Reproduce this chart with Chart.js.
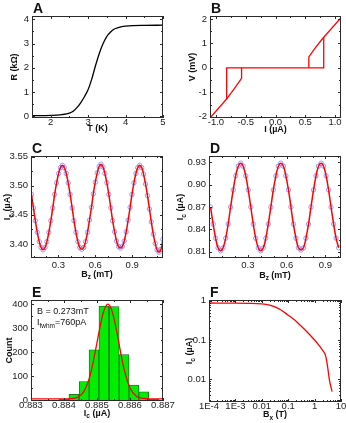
<!DOCTYPE html>
<html>
<head>
<meta charset="utf-8">
<script src="https://cdn.jsdelivr.net/npm/chart.js@4.4.0/dist/chart.umd.min.js"></script>
<style>
  html, body { margin: 0; padding: 0; background: #fff; overflow: hidden; }
  body { width: 346px; height: 423px; position: relative; }
  canvas { position: absolute; }
</style>
</head>
<body>
<canvas id="pA"></canvas>
<canvas id="pB"></canvas>
<canvas id="pC"></canvas>
<canvas id="pD"></canvas>
<canvas id="pE"></canvas>
<canvas id="pF"></canvas>
<script>
// ---- A: R(T)
const aTemp = [1.5, 2.0, 2.3, 2.5, 2.6, 2.7, 2.8, 2.9, 3.0, 3.1, 3.2, 3.3, 3.4, 3.5, 3.6, 3.7, 3.8, 3.9, 4.0, 4.2, 4.5, 5.0];
const aRes  = [0.02, 0.03, 0.06, 0.12, 0.2, 0.35, 0.55, 0.8, 1.1, 1.55, 2.1, 2.6, 3.0, 3.3, 3.48, 3.6, 3.66, 3.7, 3.72, 3.74, 3.75, 3.76];
const aXTicks = [2, 3, 4, 5];
const aYTicks = [0, 1, 2, 3, 4];

// ---- B: V(I) hysteresis
const bMainI = [-1.1, -0.82, -0.82, 0.81, 0.81, 1.1];
const bMainV = [-2.05, -1.27, 0, 0, 1.25, 2.05];
const bRetLI = [-0.82, -0.7, -0.57, -0.57];
const bRetLV = [-1.27, -0.88, -0.43, 0];
const bRetRI = [0.56, 0.56, 0.68, 0.81];
const bRetRV = [0, 0.45, 0.86, 1.25];
const bXTicks = [-1, -0.5, 0, 0.5, 1];
const bXLabels = ['-1.0', '-0.5', '0.0', '0.5', '1.0'];
const bYTicks = [-2, -1, 0, 1, 2];

// ---- C: Ic(Bz), first device
const cField = [0.082, 0.098, 0.113, 0.129, 0.145, 0.160, 0.176, 0.192, 0.207, 0.223, 0.239, 0.255, 0.270, 0.286, 0.302, 0.317,
  0.333, 0.349, 0.364, 0.380, 0.396, 0.412, 0.427, 0.443, 0.459, 0.474, 0.490, 0.506, 0.521, 0.537, 0.553, 0.569, 0.584, 0.600,
  0.616, 0.631, 0.647, 0.663, 0.678, 0.694, 0.710, 0.726, 0.741, 0.757, 0.773, 0.788, 0.804, 0.820, 0.835, 0.851, 0.867, 0.883,
  0.898, 0.914, 0.930, 0.945, 0.961, 0.977, 0.992, 1.008, 1.024, 1.040, 1.055, 1.071, 1.087, 1.102, 1.118, 1.134, 1.149];
const cCurrent = [3.485, 3.462, 3.440, 3.420, 3.404, 3.394, 3.390, 3.394, 3.404, 3.420, 3.440, 3.462, 3.485, 3.505, 3.521, 3.531,
  3.535, 3.531, 3.521, 3.505, 3.485, 3.462, 3.440, 3.420, 3.404, 3.394, 3.391, 3.394, 3.404, 3.420, 3.441, 3.463, 3.486, 3.506,
  3.522, 3.533, 3.537, 3.532, 3.521, 3.505, 3.485, 3.462, 3.440, 3.421, 3.405, 3.396, 3.393, 3.396, 3.405, 3.421, 3.441, 3.463,
  3.485, 3.505, 3.521, 3.531, 3.535, 3.531, 3.520, 3.503, 3.483, 3.460, 3.438, 3.417, 3.401, 3.390, 3.386, 3.391, 3.408];
const cXTicks = [0.3, 0.6, 0.9];
const cXLabels = ['0.3', '0.6', '0.9'];
const cYTicks = [3.40, 3.45, 3.50, 3.55];
const cYLabels = ['3.40', '3.45', '3.50', '3.55'];

// ---- D: Ic(Bz), second device
const dField = [0.012, 0.032, 0.051, 0.070, 0.090, 0.109, 0.129, 0.148, 0.167, 0.187, 0.206, 0.226, 0.245, 0.264, 0.284, 0.303,
  0.323, 0.342, 0.361, 0.381, 0.400, 0.420, 0.439, 0.458, 0.478, 0.497, 0.517, 0.536, 0.555, 0.575, 0.594, 0.614, 0.633, 0.652,
  0.672, 0.691, 0.711, 0.730, 0.749, 0.769, 0.788, 0.808, 0.827, 0.846, 0.866, 0.885, 0.905, 0.924, 0.943, 0.963, 0.982, 1.002];
const dCurrent = [0.870, 0.847, 0.828, 0.815, 0.811, 0.815, 0.828, 0.847, 0.870, 0.893, 0.912, 0.925, 0.929, 0.925, 0.912, 0.893,
  0.870, 0.847, 0.828, 0.815, 0.811, 0.815, 0.828, 0.847, 0.870, 0.893, 0.912, 0.925, 0.929, 0.925, 0.912, 0.893, 0.870, 0.847,
  0.828, 0.815, 0.812, 0.815, 0.828, 0.847, 0.870, 0.893, 0.912, 0.925, 0.929, 0.925, 0.912, 0.893, 0.870, 0.847, 0.828, 0.815];
const dXTicks = [0.3, 0.6, 0.9];
const dXLabels = ['0.3', '0.6', '0.9'];
const dYTicks = [0.81, 0.84, 0.87, 0.90, 0.93];
const dYLabels = ['0.81', '0.84', '0.87', '0.90', '0.93'];

// ---- E: histogram of Ic
const eBin   = [0.88400, 0.88430, 0.88461, 0.88491, 0.88521, 0.88552, 0.88582, 0.88612, 0.88642, 0.88673];
const eCount = [4, 25, 78, 210, 392, 390, 190, 63, 35, 4];
const eFitI  = [0.8830, 0.8835, 0.8840, 0.8842, 0.8844, 0.8846, 0.8848, 0.8850, 0.8851, 0.8852, 0.8853, 0.88533,
  0.8854, 0.8855, 0.8856, 0.8858, 0.8860, 0.8862, 0.8864, 0.8866, 0.8870];
const eFitN  = [6, 6, 6, 7, 12, 36, 108, 240, 311, 369, 398, 400, 391, 349, 284, 142, 51, 16, 8, 6, 6];
const eXTicks = [0.883, 0.884, 0.885, 0.886, 0.887];
const eXLabels = ['0.883', '0.884', '0.885', '0.886', '0.887'];
const eYTicks = [0, 100, 200, 300, 400];

// ---- F: Ic(Bx), log-log
const fField   = [1e-4, 1e-3, 3e-3, 0.01, 0.02, 0.03, 0.05, 0.1, 0.2, 0.3, 0.5, 1, 1.5, 2.0, 2.5, 2.8, 3.2, 3.6, 4.1, 4.6];
const fCurrent = [0.88, 0.87, 0.86, 0.84, 0.78, 0.71, 0.6, 0.43, 0.3, 0.23, 0.165, 0.1, 0.072, 0.055, 0.043, 0.032, 0.018, 0.01, 0.0065, 0.0048];
const fXTicks = [1e-4, 1e-3, 0.01, 0.1, 1, 10];
const fXLabels = ['1E-4', '1E-3', '0.01', '0.1', '1', '10'];
const fYTicks = [0.01, 0.1, 1];
const fYLabels = ['0.01', '0.1', '1'];

const FONT = '"Liberation Sans", Arial, sans-serif';
const zip = (xs, ys) => xs.map((x, i) => ({ x, y: ys[i] }));

// text with subscripts: parts = [[text, isSub], ...]
function richText(ctx, parts, x, y, size, bold, center) {
  const f = s => (bold ? 'bold ' : '') + s + 'px ' + FONT;
  let w = 0;
  parts.forEach(([t, sub]) => { ctx.font = f(sub ? size * 0.72 : size); w += ctx.measureText(t).width; });
  let cx = center ? x - w / 2 : x;
  parts.forEach(([t, sub]) => {
    ctx.font = f(sub ? size * 0.72 : size);
    ctx.fillText(t, cx, sub ? y + size * 0.28 : y);
    cx += ctx.measureText(t).width;
  });
}

function minorValues(s, step) {
  const out = [];
  if (!step) return out;
  if (step === 'log') {
    for (let d = Math.floor(Math.log10(s.min)); d <= Math.ceil(Math.log10(s.max)); d++)
      for (let k = 2; k <= 9; k++) {
        const v = k * Math.pow(10, d);
        if (v >= s.min && v <= s.max) out.push(v);
      }
    return out;
  }
  for (let n = Math.ceil(s.min / step - 1e-9); n * step <= s.max + 1e-12; n++) out.push(n * step);
  return out;
}

// box, inward ticks, axis titles, panel letter, notes
const framePlugin = {
  id: 'frame',
  afterDraw(chart, args, o) {
    const ctx = chart.ctx, a = chart.chartArea;
    const xs = chart.scales.x, ys = chart.scales.y;
    ctx.save();
    ctx.strokeStyle = '#2a2a2a';
    ctx.lineWidth = 1;
    const tick = (s, v, len) => {
      const p = Math.round(s.getPixelForValue(v)) + 0.5;
      ctx.beginPath();
      if (s.isHorizontal()) {
        ctx.moveTo(p, a.bottom); ctx.lineTo(p, a.bottom - len);
        ctx.moveTo(p, a.top); ctx.lineTo(p, a.top + len);
      } else {
        ctx.moveTo(a.left, p); ctx.lineTo(a.left + len, p);
        ctx.moveTo(a.right, p); ctx.lineTo(a.right - len, p);
      }
      ctx.stroke();
    };
    [[xs, o.xMinor], [ys, o.yMinor]].forEach(([s, m]) => {
      minorValues(s, m).forEach(v => tick(s, v, 2));
      s.ticks.forEach(t => tick(s, t.value, 3));
    });
    ctx.strokeRect(Math.round(a.left) + 0.5, Math.round(a.top) + 0.5,
      Math.round(a.right - a.left) - 1, Math.round(a.bottom - a.top) - 1);

    ctx.fillStyle = '#111';
    ctx.textBaseline = 'alphabetic';
    ctx.textAlign = 'left';
    // panel letter
    ctx.font = 'bold 14px ' + FONT;
    ctx.fillText(o.letter, a.left + 1, a.top - 3);
    // x title
    richText(ctx, o.xTitle, (a.left + a.right) / 2, a.bottom + o.xTitleY + 3.2, 9, true, true);
    // y title
    ctx.save();
    ctx.translate(a.left - o.yTitleX, (a.top + a.bottom) / 2);
    ctx.rotate(-Math.PI / 2);
    richText(ctx, o.yTitle, 0, 3.2, 9, true, true);
    ctx.restore();
    (o.notes || []).forEach(n => richText(ctx, n.parts, a.left + n.x, a.top + n.y, 9, false, false));
    ctx.restore();
  }
};

function axis(s, dir, size, pad) {
  return {
    type: s.type || 'linear',
    min: s.min, max: s.max, offset: false,
    grid: { display: false, drawTicks: false, offset: false },
    border: { display: false },
    ticks: {
      autoSkip: false, maxRotation: 0, minRotation: 0,
      padding: pad,
      color: '#222', font: { family: FONT, size: 9.5, lineHeight: 1 },
      callback: (v, i) => s.labels[i]
    },
    afterBuildTicks: sc => { sc.ticks = s.ticks.map(v => ({ value: v })); },
    afterFit: sc => { if (dir === 'x') sc.height = size; else sc.width = size; }
  };
}

function panel(id, rect, m, type, datasets, xs, ys, frame) {
  const [l, t, r, b] = rect;
  const cv = document.getElementById(id);
  cv.width = m.yW + (r - l) + m.padR;
  cv.height = m.padTop + (b - t) + m.xH;
  cv.style.left = (l - m.yW) + 'px';
  cv.style.top = (t - m.padTop) + 'px';
  new Chart(cv, {
    type,
    data: { datasets },
    options: {
      responsive: false, animation: false, devicePixelRatio: 1,
      layout: { padding: { left: 0, top: m.padTop, right: m.padR, bottom: 0 } },
      plugins: { legend: { display: false }, tooltip: { enabled: false }, frame },
      scales: { x: axis(xs, 'x', m.xH, m.xPad), y: axis(ys, 'y', m.yW, 3) }
    },
    plugins: [framePlugin]
  });
}

const redLine = (data, w, extra) => Object.assign({
  type: 'line', data, borderColor: '#ff0000', borderWidth: w, pointRadius: 0, fill: false
}, extra || {});
const blueDots = data => ({
  type: 'line', data, showLine: false, pointRadius: 2.2, pointBorderWidth: 0.8,
  pointBorderColor: '#8282ff', pointBackgroundColor: 'rgba(0,0,0,0)'
});

const IC = [['I', 0], ['c', 1], [' (\u00b5A)', 0]];

// A
panel('pA', [32, 16, 163, 118], { yW: 32, padTop: 16, padR: 12, xH: 20, xPad: -0.5 }, 'line',
  [redLine(zip(aTemp, aRes), 1.3, { borderColor: '#000', cubicInterpolationMode: 'monotone' })],
  { min: 1.5, max: 5, ticks: aXTicks, labels: aXTicks.map(String) },
  { min: -0.08, max: 4.14, ticks: aYTicks, labels: aYTicks.map(String) },
  { letter: 'A', xMinor: 0.5, yMinor: 0.5, xTitle: [['T (K)', 0]], xTitleY: 10,
    yTitle: [['R (k\u03a9)', 0]], yTitleX: 18 });

// B
panel('pB', [210, 16, 341, 118], { yW: 38, padTop: 16, padR: 8, xH: 20, xPad: -0.5 }, 'line',
  [redLine(zip(bMainI, bMainV), 1.3), redLine(zip(bRetLI, bRetLV), 1.3), redLine(zip(bRetRI, bRetRV), 1.3)],
  { min: -1.1, max: 1.1, ticks: bXTicks, labels: bXLabels },
  { min: -2.05, max: 2.12, ticks: bYTicks, labels: bYTicks.map(String) },
  { letter: 'B', xMinor: 0.25, yMinor: 0.5, xTitle: [['I (\u00b5A)', 0]], xTitleY: 11,
    yTitle: [['V (mV)', 0]], yTitleX: 18 });

// C
panel('pC', [31, 156, 163, 258], { yW: 31, padTop: 16, padR: 12, xH: 22, xPad: 2.5 }, 'line',
  [redLine(zip(cField, cCurrent), 1.5, { tension: 0.4 }), blueDots(zip(cField, cCurrent))],
  { min: 0.078, max: 1.15, ticks: cXTicks, labels: cXLabels },
  { min: 3.376, max: 3.551, ticks: cYTicks, labels: cYLabels },
  { letter: 'C', xMinor: 0.1, yMinor: 0.025, xTitle: [['B', 0], ['z', 1], [' (mT)', 0]], xTitleY: 15.5,
    yTitle: IC, yTitleX: 24 });

// D
panel('pD', [209, 156, 341, 258], { yW: 37, padTop: 16, padR: 8, xH: 22, xPad: 3 }, 'line',
  [redLine(zip(dField, dCurrent), 1.5, { tension: 0.4 }), blueDots(zip(dField, dCurrent))],
  { min: 0, max: 1.02, ticks: dXTicks, labels: dXLabels },
  { min: 0.8013, max: 0.9387, ticks: dYTicks, labels: dYLabels },
  { letter: 'D', xMinor: 0.1, yMinor: 0.015, xTitle: [['B', 0], ['z', 1], [' (mT)', 0]], xTitleY: 16.5,
    yTitle: IC, yTitleX: 29 });

// E
panel('pE', [31, 300, 163, 401], { yW: 31, padTop: 16, padR: 12, xH: 22, xPad: 0 }, 'bar',
  [redLine(zip(eFitI, eFitN), 1.3, { cubicInterpolationMode: 'monotone' }),
   { type: 'bar', data: zip(eBin, eCount), backgroundColor: '#00ee00', borderColor: '#245a24',
     borderWidth: 0.8, barPercentage: 1, categoryPercentage: 1 }],
  { min: 0.883, max: 0.887, ticks: eXTicks, labels: eXLabels },
  { min: -3, max: 417, ticks: eYTicks, labels: eYTicks.map(String) },
  { letter: 'E', xMinor: 0.0005, yMinor: 50, xTitle: IC, xTitleY: 11.5,
    yTitle: [['Count', 0]], yTitleX: 22,
    notes: [{ x: 6, y: 13.5, parts: [['B = 0.273mT', 0]] },
            { x: 6, y: 25, parts: [['I', 0], ['fwhm', 1], ['=760pA', 0]] }] });

// F
panel('pF', [209, 300, 341, 402], { yW: 37, padTop: 16, padR: 8, xH: 21, xPad: -0.5 }, 'line',
  [redLine(zip(fField, fCurrent), 1.3, { cubicInterpolationMode: 'monotone' })],
  { type: 'logarithmic', min: 1e-4, max: 10, ticks: fXTicks, labels: fXLabels },
  { type: 'logarithmic', min: 0.0026, max: 1.05, ticks: fYTicks, labels: fYLabels },
  { letter: 'F', xMinor: 'log', yMinor: 'log', xTitle: [['B', 0], ['x', 1], [' (T)', 0]], xTitleY: 12,
    yTitle: IC, yTitleX: 20 });
</script>
</body>
</html>
